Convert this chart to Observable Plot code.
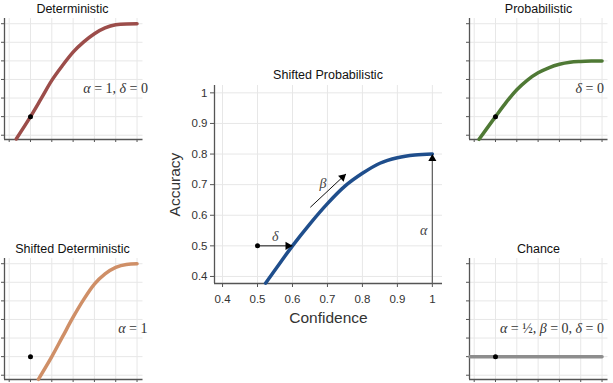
<!DOCTYPE html>
<html><head><meta charset="utf-8">
<script src="https://cdn.jsdelivr.net/npm/d3@7"></script>
<script src="https://cdn.jsdelivr.net/npm/@observablehq/plot@0.6"></script>
<style>
html,body{margin:0;padding:0;background:#fff;}
body{width:613px;height:383px;overflow:hidden;position:relative;font-family:"Liberation Sans",Arial,sans-serif;}
.panel{position:absolute;}
.title{position:absolute;font-size:12.5px;line-height:1;color:#111;transform:translateX(-50%);white-space:nowrap;}
</style></head><body>
<script>
// ---- data ----
const xTicks = [0.4, 0.5, 0.6, 0.7, 0.8, 0.9, 1.0];
const yTicks = [0.4, 0.5, 0.6, 0.7, 0.8, 0.9, 1.0];
const tickLabels = ["0.4", "0.5", "0.6", "0.7", "0.8", "0.9", "1"];

const titles = ["Deterministic", "Probabilistic", "Shifted Deterministic", "Chance", "Shifted Probabilistic"];

const detX = [0.433, 0.5, 0.55, 0.6, 0.65, 0.7, 0.75, 0.8, 0.85, 0.9, 0.95, 1.0];
const detY = [0.38, 0.5, 0.597, 0.695, 0.775, 0.847, 0.902, 0.946, 0.977, 0.994, 0.999, 1.0];

const probX = [0.423, 0.5, 0.55, 0.6, 0.65, 0.7, 0.75, 0.8, 0.85, 0.9, 0.95, 1.0];
const probY = [0.378, 0.5, 0.577, 0.645, 0.697, 0.736, 0.763, 0.782, 0.793, 0.797, 0.799, 0.8];

const sdetX = [0.537, 0.6, 0.65, 0.7, 0.75, 0.8, 0.85, 0.9, 0.95, 1.0];
const sdetY = [0.378, 0.5, 0.606, 0.712, 0.808, 0.89, 0.945, 0.98, 0.996, 1.0];

const chanceX = [0.38, 1.0];
const chanceY = [0.5, 0.5];

const sprobX = [0.523, 0.55, 0.6, 0.65, 0.7, 0.75, 0.8, 0.85, 0.9, 0.95, 1.0];
const sprobY = [0.378, 0.421, 0.5, 0.572, 0.638, 0.695, 0.737, 0.77, 0.788, 0.797, 0.8];

const refPoint = {x: 0.5, y: 0.5};

const panelLabels = ["α = 1, δ = 0", "δ = 0", "α = 1", "α = ½, β = 0, δ = 0"];
const panelLabelY = [0.65, 0.65, 0.65, 0.65];

// arrows in the main panel: [x1, y1, x2, y2]
const deltaArrow = [0.5, 0.5, 0.6, 0.5];
const betaArrow = [0.651, 0.626, 0.753, 0.735];
const alphaArrow = [1.0, 0.377, 1.0, 0.8];
const greekLabels = [
  {t: "δ", x: 0.551, y: 0.53},
  {t: "β", x: 0.687, y: 0.705},
  {t: "α", x: 0.975, y: 0.55}
];

// ---- layout ----
const smallXDomain = [0.378, 1.028];
const smallYDomain = [0.377, 1.028];
const mainXDomain = [0.377, 1.029];
const mainYDomain = [0.377, 1.024];

const gridColor = "#e7e7e7";
const axisColor = "#555";
const serif = "'Liberation Serif','DejaVu Serif',serif";
const sans = "'Liberation Sans',Arial,sans-serif";

function place(el, left, top) {
  el.classList.add("panel");
  el.style.left = left + "px";
  el.style.top = top + "px";
  document.body.appendChild(el);
}
function title(text, cx, top) {
  const d = document.createElement("div");
  d.className = "title";
  d.textContent = text;
  d.style.left = cx + "px";
  d.style.top = top + "px";
  document.body.appendChild(d);
}

function small(xs, ys, color, label, labelY, labelDx) {
  const data = xs.map((x, i) => ({x, y: ys[i]}));
  return Plot.plot({
    width: 148.5, height: 131,
    marginLeft: 5, marginRight: 5, marginTop: 3, marginBottom: 7,
    style: {background: "transparent", overflow: "visible", color: axisColor},
    x: {domain: smallXDomain, label: null},
    y: {domain: smallYDomain, label: null},
    marks: [
      Plot.ruleX(xTicks, {stroke: gridColor, strokeWidth: 1}),
      Plot.ruleY(yTicks, {stroke: gridColor, strokeWidth: 1}),
      Plot.axisX({ticks: xTicks, tickSize: 3, tickFormat: () => "", label: null, stroke: axisColor}),
      Plot.axisY({ticks: yTicks, tickSize: 3, tickFormat: () => "", label: null, stroke: axisColor}),
      Plot.ruleX([smallXDomain[0]], {stroke: axisColor, strokeWidth: 1.3}),
      Plot.ruleY([smallYDomain[0]], {stroke: axisColor, strokeWidth: 1.3}),
      Plot.line(data, {x: "x", y: "y", stroke: color, strokeWidth: 3.5, curve: "monotone-x"}),
      Plot.dot([refPoint], {x: "x", y: "y", r: 2.5, fill: "black", stroke: "none"}),
      Plot.text([label], {text: d => d, frameAnchor: "right", y: () => labelY, dx: labelDx,
        textAnchor: "end", lineAnchor: "middle", fontSize: 14, fontFamily: serif, fill: "#333"})
    ]
  });
}

place(small(detX, detY, "#9c4d4a", panelLabels[0], panelLabelY[0], 5), -1.4, 15);
place(small(probX, probY, "#4f7935", panelLabels[1], panelLabelY[1], -4), 464.3, 15);
place(small(sdetX, sdetY, "#cf8f67", panelLabels[2], panelLabelY[2], 4.5), -1.4, 254.5);
place(small(chanceX, chanceY, "#8d8d8d", panelLabels[3], panelLabelY[3], -4), 464.3, 254.5);

title(titles[0], 72.5, 2.6);
title(titles[1], 538.5, 2.6);
title(titles[2], 72.5, 243.3);
title(titles[3], 538.5, 242.8);
title(titles[4], 328, 68.9);

// main panel
const mainData = sprobX.map((x, i) => ({x, y: sprobY[i]}));
const link = a => ({x1: a[0], y1: a[1], x2: a[2], y2: a[3]});
const tri = 4.67; // distance from triangle centre to its tip (r = 3)
const betaAngle = Math.atan2((betaArrow[2] - betaArrow[0]) * 350, (betaArrow[3] - betaArrow[1]) * 306);

const mainPlot = Plot.plot({
  width: 300, height: 255,
  marginLeft: 64, marginRight: 8, marginTop: 5, marginBottom: 52,
  style: {background: "transparent", overflow: "visible", color: "#444", fontFamily: sans},
  x: {domain: mainXDomain, label: null},
  y: {domain: mainYDomain, label: null},
  marks: [
    Plot.ruleX(xTicks, {stroke: gridColor, strokeWidth: 1}),
    Plot.ruleY(yTicks, {stroke: gridColor, strokeWidth: 1}),
    Plot.axisX({ticks: xTicks, tickSize: 4, tickPadding: 7, fontSize: 11.5, fill: "#333", stroke: axisColor,
      tickFormat: d => tickLabels[xTicks.indexOf(d)], label: null, fontFamily: sans}),
    Plot.axisY({ticks: yTicks, tickSize: 4, tickPadding: 3, fontSize: 11.5, fill: "#333", stroke: axisColor,
      tickFormat: d => tickLabels[yTicks.indexOf(d)], label: null, fontFamily: sans}),
    Plot.ruleX([mainXDomain[0]], {stroke: axisColor, strokeWidth: 1.3}),
    Plot.ruleY([mainYDomain[0]], {stroke: axisColor, strokeWidth: 1.3}),
    Plot.link([link(alphaArrow)], {x1: "x1", y1: "y1", x2: "x2", y2: "y2", stroke: "#666", strokeWidth: 1.3}),
    Plot.line(mainData, {x: "x", y: "y", stroke: "#1f4e8c", strokeWidth: 3.5, curve: "monotone-x"}),
    Plot.link([link(deltaArrow)], {x1: "x1", y1: "y1", x2: "x2", y2: "y2", stroke: "#111", strokeWidth: 1}),
    Plot.link([link(betaArrow)], {x1: "x1", y1: "y1", x2: "x2", y2: "y2", stroke: "#111", strokeWidth: 1}),
    Plot.dot([refPoint], {x: "x", y: "y", r: 2.5, fill: "black", stroke: "none"}),
    Plot.dot([link(deltaArrow)], {x: "x2", y: "y2", symbol: "triangle", r: 3, fill: "black", stroke: "none",
      rotate: 90, dx: -tri}),
    Plot.dot([link(betaArrow)], {x: "x2", y: "y2", symbol: "triangle", r: 3, fill: "black", stroke: "none",
      rotate: betaAngle * 180 / Math.PI, dx: -tri * Math.sin(betaAngle), dy: tri * Math.cos(betaAngle)}),
    Plot.dot([link(alphaArrow)], {x: "x2", y: "y2", symbol: "triangle", r: 3, fill: "black", stroke: "none",
      rotate: 0, dy: tri}),
    Plot.text(greekLabels, {x: "x", y: "y", text: "t", fontSize: 14, fontFamily: serif,
      fontStyle: "italic", fill: "#444"}),
    Plot.text(["Confidence"], {text: d => d, frameAnchor: "bottom", textAnchor: "middle", lineAnchor: "middle",
      dy: 35, fontSize: 15.5, fill: "#333", fontFamily: sans}),
    Plot.text(["Accuracy"], {text: d => d, frameAnchor: "left", textAnchor: "middle", lineAnchor: "middle",
      rotate: -90, dx: -39.5, fontSize: 15.5, fill: "#333", fontFamily: sans})
  ]
});
place(mainPlot, 150, 80);

// italicise Greek letters inside mixed math labels
document.querySelectorAll("svg text").forEach(t => {
  const s = t.textContent;
  if (!/[αβδ]/.test(s) || !/=/.test(s)) return;
  t.textContent = "";
  const runs = s.match(/[αβδ]+|[^αβδ]+/g);
  runs.forEach(r => {
    const sp = document.createElementNS("http://www.w3.org/2000/svg", "tspan");
    sp.textContent = r;
    if (/[αβδ]/.test(r)) sp.setAttribute("font-style", "italic");
    t.appendChild(sp);
  });
});
</script>
</body></html>
